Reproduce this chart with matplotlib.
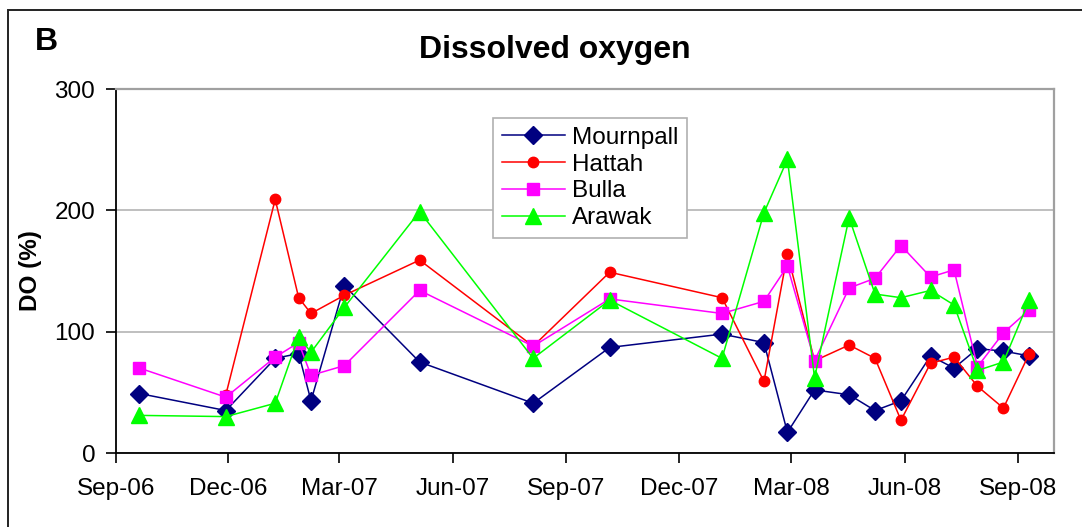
import datetime as dt
import numpy as np
import matplotlib
matplotlib.use("Agg")
import matplotlib.pyplot as plt
import matplotlib.dates as mdates
from matplotlib.patches import Rectangle

plt.rcParams['font.family'] = ['Liberation Sans', 'DejaVu Sans']

# sampling dates (shared by all sites)
dates = [
    dt.date(2006, 9, 20), dt.date(2006, 11, 29), dt.date(2007, 1, 8),
    dt.date(2007, 1, 27), dt.date(2007, 2, 6), dt.date(2007, 3, 5),
    dt.date(2007, 5, 5), dt.date(2007, 8, 5), dt.date(2007, 10, 6),
    dt.date(2008, 1, 5), dt.date(2008, 2, 8), dt.date(2008, 2, 27),
    dt.date(2008, 3, 20), dt.date(2008, 4, 17), dt.date(2008, 5, 8),
    dt.date(2008, 5, 29), dt.date(2008, 6, 22), dt.date(2008, 7, 11),
    dt.date(2008, 7, 30), dt.date(2008, 8, 20), dt.date(2008, 9, 10),
]

mournpall = [49, 35, 78, 82, 43, 138, 75, 41, 87, 98, 91, 17, 52, 48, 35, 43, 80, 70, 86, 84, 80]
hattah = [np.nan, 48, 209, 128, 115, 130, 159, 88, 149, 128, 59, 164, 76, 89, 78, 27, 74, 79, 55, 37, 82]
bulla = [70, 46, 79, 91, 64, 72, 134, 88, 127, 115, 125, 154, 76, 136, 144, 171, 145, 151, 71, 99, 118]
arawak = [31, 30, 41, 96, 83, 120, 199, 78, 126, 78, 198, 242, 62, 194, 131, 128, 134, 122, 68, 75, 126]

fig = plt.figure(figsize=(10.82, 5.27), dpi=100)
ax = fig.add_axes([116 / 1082, 1 - 453 / 527, 938 / 1082, 364 / 527])

ax.plot(dates, mournpall, color='#000080', marker='D', markersize=9, lw=1.1, label='Mournpall')
ax.plot(dates, hattah, color='#ff0000', marker='o', markersize=7.5, lw=1.1, label='Hattah')
ax.plot(dates, bulla, color='#ff00ff', marker='s', markersize=8, lw=1.1, label='Bulla')
ax.plot(dates, arawak, color='#00ff00', marker='^', markersize=11, lw=1.1, label='Arawak')

ax.set_xlim(dt.date(2006, 9, 1), dt.date(2008, 9, 30))
ax.set_ylim(0, 300)
ax.set_yticks([0, 100, 200, 300])
ax.xaxis.set_major_locator(mdates.MonthLocator(bymonth=[3, 6, 9, 12]))
ax.xaxis.set_major_formatter(mdates.DateFormatter('%b-%y'))
ax.yaxis.grid(True, color='#b4b4b4', lw=1.2)
ax.set_axisbelow(True)

ax.tick_params(axis='both', direction='out', length=7, width=1.2, labelsize=17.5, colors='black')
ax.tick_params(axis='x', pad=11)
ax.tick_params(axis='y', pad=8)
for s in ['left', 'bottom']:
    ax.spines[s].set_color('black')
    ax.spines[s].set_linewidth(1.3)
for s in ['top', 'right']:
    ax.spines[s].set_color('#a0a0a0')
    ax.spines[s].set_linewidth(1.6)

ax.set_ylabel('DO (%)', fontsize=17.5, fontweight='bold', labelpad=9)
fig.text(0.513, 0.905, 'Dissolved oxygen', ha='center', va='center', fontsize=23, fontweight='bold')
fig.text(0.032, 0.92, 'B', ha='left', va='center', fontsize=23, fontweight='bold')

leg = ax.legend(loc='upper left', bbox_to_anchor=(0.402, 0.92), borderaxespad=0, fontsize=17.5,
                frameon=True, fancybox=False, edgecolor='#b0b0b0', framealpha=1,
                labelspacing=0.2, handlelength=2.6, handletextpad=0.3, borderpad=0.35)
leg.get_frame().set_linewidth(1.2)

# outer frame of the panel
fig.patches.append(Rectangle((8 / 1082, -0.1), 1.2, 1.1 - 10 / 527, transform=fig.transFigure,
                             fill=False, edgecolor='#222222', lw=1.4, clip_on=False))

fig.savefig('out.png', dpi=100)
